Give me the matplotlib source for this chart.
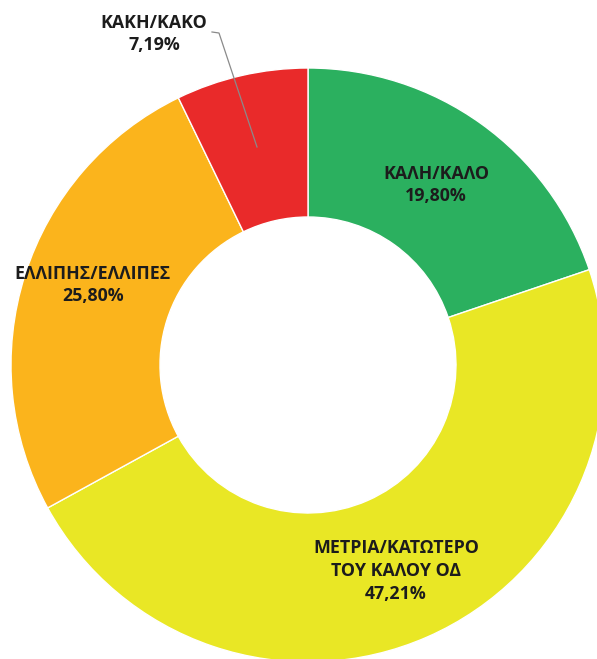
import matplotlib
matplotlib.use("Agg")
import matplotlib.pyplot as plt
import numpy as np

# Shares of each rating (percent), clockwise from 12 o'clock
categories = ["ΚΑΛΗ/ΚΑΛΟ", "ΜΕΤΡΙΑ/ΚΑΤΩΤΕΡΟ\nΤΟΥ ΚΑΛΟΥ ΟΔ", "ΕΛΛΙΠΗΣ/ΕΛΛΙΠΕΣ", "ΚΑΚΗ/ΚΑΚΟ"]
values = [19.80, 47.21, 25.80, 7.19]
colors = ["#2BB05F", "#E9E725", "#FBB41C", "#E92A2A"]

W, H = 597, 659
fig = plt.figure(figsize=(W / 100, H / 100), dpi=100)
ax = fig.add_axes([0, 0, 1, 1])

cx, cy = 308, H - 365
r_out, r_in = 297, 148

wedges, _ = ax.pie(
    values, colors=colors, startangle=90, counterclock=False,
    radius=r_out, center=(cx, cy),
    wedgeprops=dict(width=r_out - r_in, edgecolor="white", linewidth=1.0),
)
ax.set_xlim(0, W)
ax.set_ylim(0, H)
ax.set_aspect("auto")
ax.axis("off")

font = dict(family=["Open Sans", "DejaVu Sans"], fontsize=12.8, fontweight="bold",
            color="#1c1c1c", ha="center", va="center", linespacing=1.33)

def fmt(v):
    return f"{v:.2f}".replace(".", ",") + "%"

# label anchor points (pixels from top-left)
label_pos = [(436, 185), (396, 571), (93, 285), (154, 34)]
for cat, v, (px, py) in zip(categories, values, label_pos):
    ax.text(px, H - py, f"{cat}\n{fmt(v)}", **font)

# leader line for the small slice
ax.plot([212, 219, 257], [H - 32, H - 33, H - 147], color="#8a8a8a", lw=0.9)

fig.savefig("out.png", dpi=100)
